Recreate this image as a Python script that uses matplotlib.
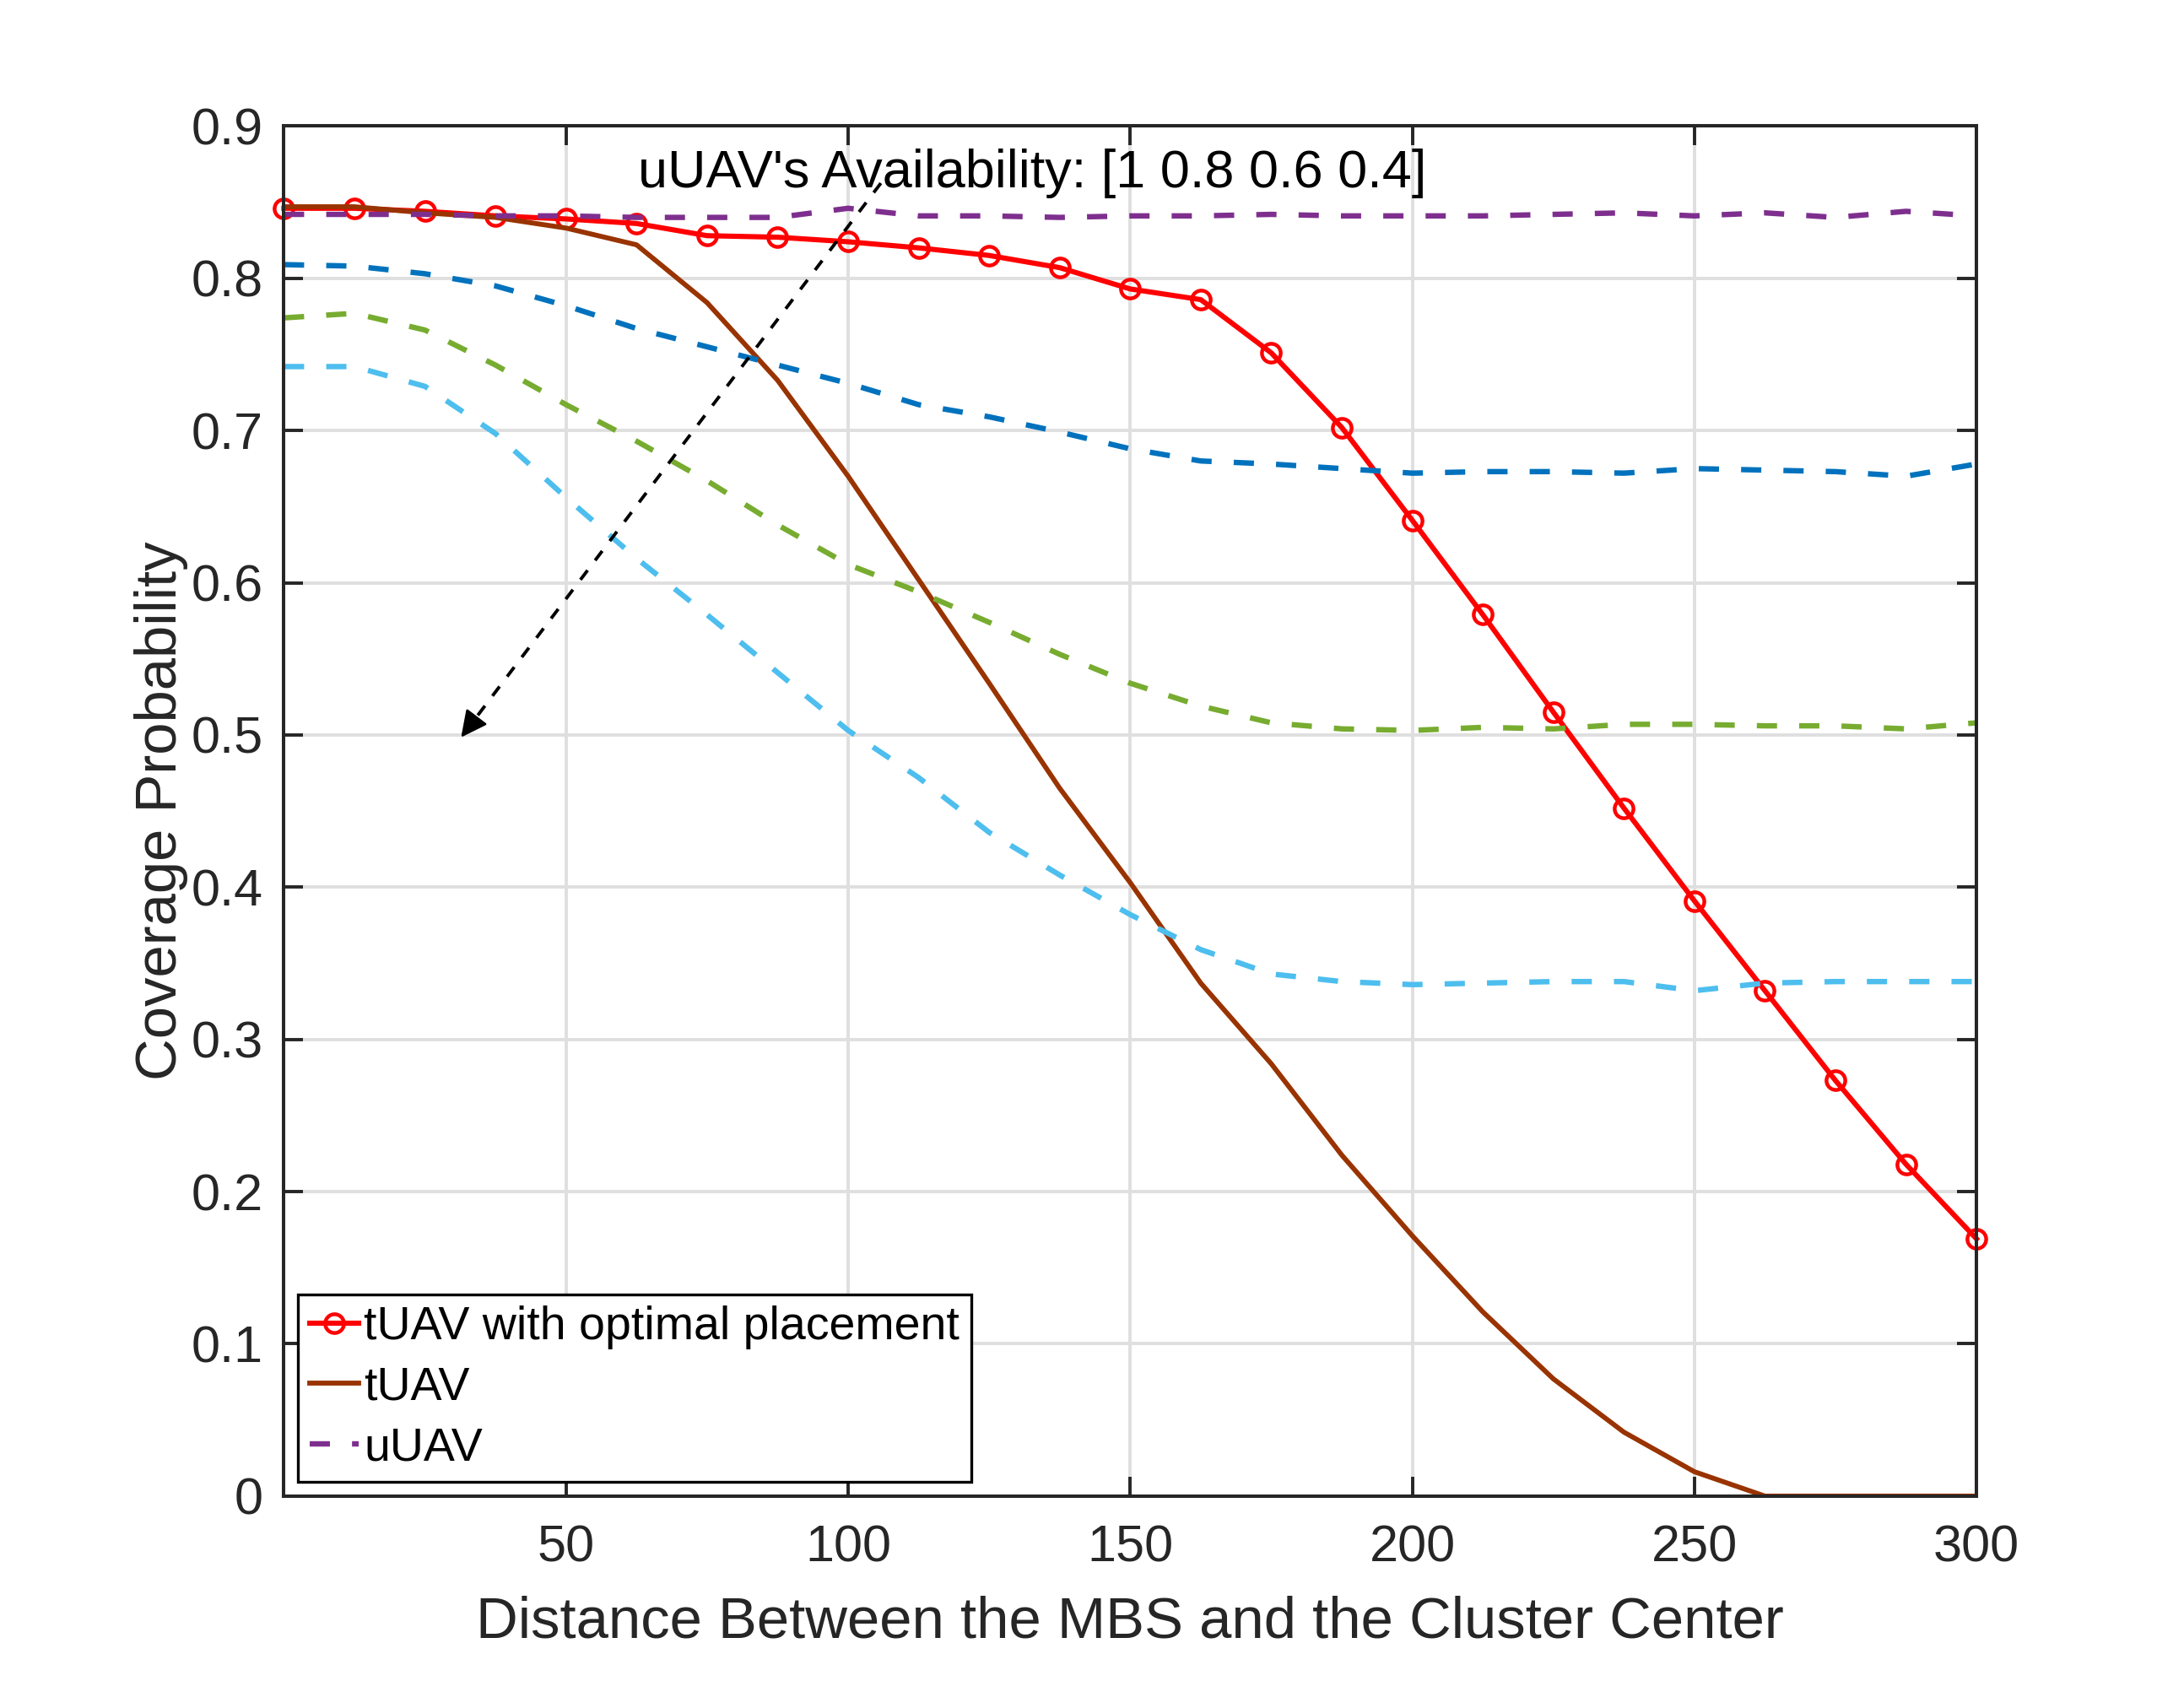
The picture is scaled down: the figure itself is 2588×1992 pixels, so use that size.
import matplotlib
matplotlib.use('Agg')
import matplotlib.pyplot as plt
import numpy as np

plt.rcParams['font.family'] = ['Liberation Sans', 'DejaVu Sans']

# distance grid
x = np.arange(0, 300.1, 12.5)

# tUAV with optimal placement
p_opt = [0.846, 0.846, 0.844, 0.841, 0.839, 0.836, 0.828, 0.827, 0.824, 0.820,
         0.815, 0.807, 0.793, 0.786, 0.751, 0.702, 0.641, 0.579, 0.515, 0.452,
         0.391, 0.332, 0.273, 0.218, 0.169]
# tUAV
p_t = [0.847, 0.847, 0.843, 0.840, 0.833, 0.822, 0.784, 0.733, 0.670, 0.602,
       0.534, 0.465, 0.403, 0.337, 0.284, 0.224, 0.171, 0.121, 0.077, 0.042,
       0.016, 0.0, 0.0, 0.0, 0.0]
# uUAV, availability 1, 0.8, 0.6, 0.4
p_u10 = [0.842, 0.842, 0.842, 0.841, 0.841, 0.840, 0.840, 0.840, 0.846, 0.841,
         0.841, 0.840, 0.841, 0.841, 0.842, 0.841, 0.841, 0.841, 0.842, 0.843,
         0.841, 0.843, 0.840, 0.844, 0.841]
p_u08 = [0.809, 0.808, 0.803, 0.795, 0.782, 0.767, 0.755, 0.743, 0.731, 0.717,
         0.709, 0.699, 0.688, 0.680, 0.678, 0.675, 0.672, 0.673, 0.673, 0.672,
         0.675, 0.674, 0.673, 0.670, 0.678]
p_u06 = [0.774, 0.777, 0.766, 0.743, 0.717, 0.693, 0.667, 0.638, 0.612, 0.594,
         0.574, 0.553, 0.534, 0.519, 0.508, 0.504, 0.503, 0.505, 0.504, 0.507,
         0.507, 0.506, 0.506, 0.504, 0.508]
p_u04 = [0.742, 0.742, 0.729, 0.698, 0.656, 0.616, 0.579, 0.541, 0.503, 0.472,
         0.436, 0.408, 0.382, 0.359, 0.343, 0.338, 0.336, 0.337, 0.338, 0.338,
         0.332, 0.337, 0.338, 0.338, 0.338]

fig = plt.figure(figsize=(12.94, 9.96), dpi=200)
ax = fig.add_axes([0.13, 0.11, 0.775, 0.815])

dash = (3.75, 4.1)
ax.plot(x, p_opt, '-o', color='#FF0000', lw=2.2, ms=8, mfc='none', mew=1.6,
        label='tUAV with optimal placement', clip_on=False, zorder=3)
ax.plot(x, p_t, '-', color='#993300', lw=2.1, label='tUAV', zorder=3)
ax.plot(x, p_u10, '--', dashes=dash, color='#7E2F8E', lw=2.3, label='uUAV', zorder=3)
ax.plot(x, p_u08, '--', dashes=dash, color='#0072BD', lw=2.3, zorder=3)
ax.plot(x, p_u06, '--', dashes=dash, color='#77AC30', lw=2.3, zorder=3)
ax.plot(x, p_u04, '--', dashes=dash, color='#4DBEEE', lw=2.3, zorder=3)

# arrow showing decreasing availability
tail = (105.8, 0.8625)
head = (30.9, 0.496)
ax.plot([tail[0], head[0]], [tail[1], head[1]], '--', color='k', lw=1.4,
        dashes=(3.6, 3.8), zorder=4)
ax.annotate('', xy=head, xytext=(head[0] + 0.04 * (tail[0] - head[0]),
                                 head[1] + 0.04 * (tail[1] - head[1])),
            arrowprops=dict(arrowstyle='-|>,head_length=0.8,head_width=0.4',
                            color='k', lw=1.0, mutation_scale=12), zorder=4)
ax.text(132.7, 0.869, "uUAV's Availability: [1 0.8 0.6 0.4]", ha='center', va='center',
        fontsize=22.7, color='k', zorder=5)

ax.set_xlim(0, 300)
ax.set_ylim(0, 0.9)
ax.set_xticks([50, 100, 150, 200, 250, 300])
ax.set_yticks(np.arange(0, 0.91, 0.1))
ax.set_yticklabels(['0', '0.1', '0.2', '0.3', '0.4', '0.5', '0.6', '0.7', '0.8', '0.9'])
ax.grid(True, color='#DFDFDF', lw=1.4)
ax.set_axisbelow(True)
ax.tick_params(direction='in', length=8.4, width=1.4, top=True, right=True,
               labelsize=22, colors='#262626', pad=9)
ax.tick_params(axis='x', pad=12)
for s in ax.spines.values():
    s.set_color('#262626')
    s.set_linewidth(1.45)
    s.set_zorder(6)

ax.set_xlabel('Distance Between the MBS and the Cluster Center', fontsize=24.8,
              color='#262626', labelpad=10)
ax.set_ylabel('Coverage Probability', fontsize=24.8, color='#262626', labelpad=1)

leg = ax.legend(loc='lower left', fontsize=20, handlelength=1.05, handletextpad=0.1,
                labelspacing=0.35, borderaxespad=0.3, borderpad=0.25,
                fancybox=False, edgecolor='k', framealpha=1)
leg.get_frame().set_linewidth(1.2)
leg.set_zorder(7)

fig.savefig('out.png', dpi=200)
